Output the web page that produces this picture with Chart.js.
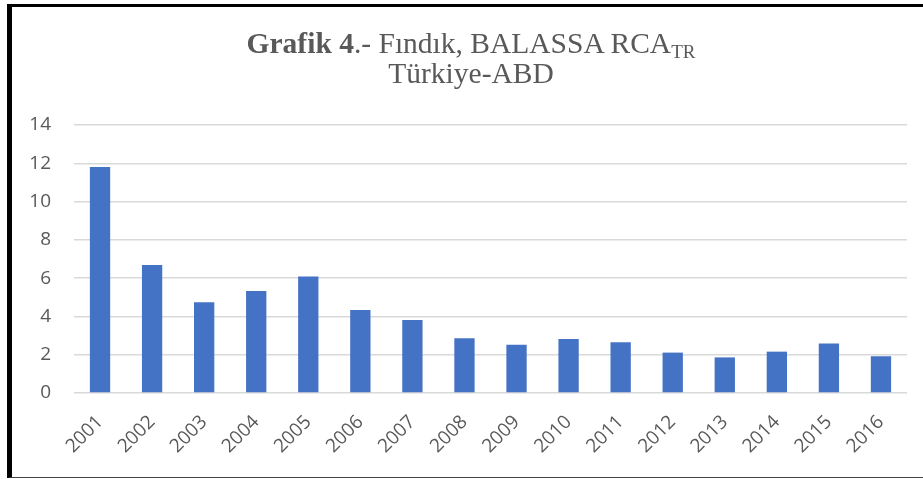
<!DOCTYPE html>
<html>
<head>
<meta charset="utf-8">
<script src="https://cdn.jsdelivr.net/npm/chart.js@4/dist/chart.umd.min.js"></script>
<style>
  html, body { margin: 0; padding: 0; background: #fff; }
  #wrap { position: relative; width: 923px; height: 479px; overflow: hidden; }
  #frame { position: absolute; left: 7px; top: 4px; width: 916px; height: 474px;
           border-left: 5px solid #000; border-top: 3px solid #000; border-bottom: 1px solid #444;
           box-sizing: border-box; pointer-events: none; }
  #title { position: absolute; left: 0; top: 28px; width: 942px; text-align: center;
           font-family: "Liberation Serif", "Times New Roman", serif; font-size: 29.5px;
           line-height: 30px; color: #595959; }
  #title sub { font-size: 19px; line-height: 0; vertical-align: -5px; }
  canvas { position: absolute; left: 0; top: 0; }
</style>
</head>
<body>
<div id="wrap">
  <canvas id="c" width="923" height="479"></canvas>
  <div id="title"><b>Grafik 4</b>.- Fındık, BALASSA RCA<sub>TR</sub><br>Türkiye-ABD</div>
  <div id="frame"></div>
</div>
<script>
const years = ["2001","2002","2003","2004","2005","2006","2007","2008","2009","2010","2011","2012","2013","2014","2015","2016"];
const rcaValues = [11.8, 6.69, 4.74, 5.33, 6.08, 4.34, 3.81, 2.86, 2.52, 2.82, 2.65, 2.11, 1.86, 2.16, 2.58, 1.92];
const yTicks = [0, 2, 4, 6, 8, 10, 12, 14];

const tickFont = { family: "'Open Sans', 'Liberation Sans', sans-serif", size: 19 };

new Chart(document.getElementById('c'), {
  type: 'bar',
  data: {
    labels: years,
    datasets: [{
      label: 'RCA',
      data: rcaValues,
      backgroundColor: '#4472c4',
      borderWidth: 0,
      categoryPercentage: 1.0,
      barPercentage: 0.39
    }]
  },
  options: {
    responsive: false,
    animation: false,
    devicePixelRatio: 1,
    layout: { padding: { left: 0, right: 16, top: 125, bottom: 0 } },
    plugins: { legend: { display: false }, title: { display: false }, tooltip: { enabled: false } },
    scales: {
      x: {
        grid: { display: false, drawTicks: false },
        border: { display: false },
        ticks: { color: '#595959', font: tickFont, maxRotation: 45, minRotation: 45, padding: 18, autoSkip: false },
        afterFit: (s) => { s.height = 86; }
      },
      y: {
        min: 0, max: 14,
        afterBuildTicks: (s) => { s.ticks = yTicks.map(v => ({ value: v })); },
        grid: { color: '#d9d9d9', lineWidth: 1.5, drawTicks: false },
        border: { display: false },
        ticks: { color: '#595959', font: tickFont, padding: 23 },
        afterFit: (s) => { s.width = 74; }
      }
    }
  }
});
</script>
</body>
</html>
